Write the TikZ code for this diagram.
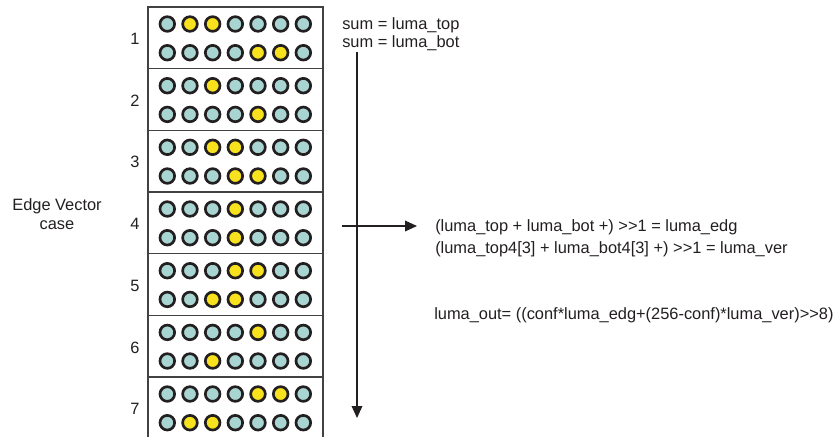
\documentclass[tikz,border=0pt]{standalone}
\usepackage{fontspec}
\setmainfont{Liberation Sans}
\usetikzlibrary{arrows.meta}
\definecolor{tq}{HTML}{A8D4D2}
\definecolor{yw}{HTML}{F8E21E}
\definecolor{ink}{HTML}{231F20}
\tikzset{
  dot/.style={circle, draw=ink, line width=2pt, inner sep=0pt, minimum size=11pt},
  blk/.style={draw=ink!85, line width=1.1pt, minimum width=131.25pt, minimum height=46.25pt, inner sep=0pt},
  txt/.style={font=\fontsize{12.3}{14}\selectfont, inner sep=0pt, text=ink},
  arr/.style={draw=ink, line width=1pt, -{Triangle[length=9pt,width=8pt]}}
}
\newcommand\dotrow[3]{%
  \foreach \c [count=\j] in {#3}
    \node[dot, fill=\c] (d#1-\j) at ({167.3+22.67*(\j-1)}, #2) {};}
\newcommand\shr{>\kern0pt>}
\begin{document}
\begin{tikzpicture}[x=0.75pt, y=-0.75pt]
\useasboundingbox (0,0) rectangle (837,436);
% blocks
\foreach \b in {1,...,7}{
  \pgfmathsetmacro\top{7+61.67*(\b-1)}
  \node[blk] (b\b) at (235.5, {\top+30.83}) {};
  \node[txt] (n\b) at (135, {\top+32}) {\b};
}
\dotrow{1a}{24}{tq,yw,yw,tq,tq,tq,tq}
\dotrow{1b}{52.7}{tq,tq,tq,tq,yw,yw,tq}
\dotrow{2a}{85.7}{tq,tq,yw,tq,tq,tq,tq}
\dotrow{2b}{114.4}{tq,tq,tq,tq,yw,tq,tq}
\dotrow{3a}{147.3}{tq,tq,yw,yw,tq,tq,tq}
\dotrow{3b}{176}{tq,tq,tq,yw,yw,tq,tq}
\dotrow{4a}{209}{tq,tq,tq,yw,tq,tq,tq}
\dotrow{4b}{237.7}{tq,tq,tq,yw,tq,tq,tq}
\dotrow{5a}{270.7}{tq,tq,tq,yw,yw,tq,tq}
\dotrow{5b}{299.4}{tq,tq,yw,yw,tq,tq,tq}
\dotrow{6a}{332.4}{tq,tq,tq,tq,yw,tq,tq}
\dotrow{6b}{361}{tq,tq,yw,tq,tq,tq,tq}
\dotrow{7a}{394}{tq,tq,tq,tq,yw,yw,tq}
\dotrow{7b}{422.7}{tq,yw,yw,tq,tq,tq,tq}
% texts
\node[txt, align=center] (evc) at (57, 214) {Edge Vector\\case};
\node[txt, anchor=west] (s1) at (342, 25) {sum = luma\_top};
\node[txt, anchor=west] (s2) at (342, 43) {sum = luma\_bot};
\node[txt, anchor=west] (e1) at (435, 227) {(luma\_top + luma\_bot +) \shr1 = luma\_edg};
\node[txt, anchor=west] (e2) at (435, 249) {(luma\_top4[3] + luma\_bot4[3] +) \shr1 = luma\_ver};
\node[txt, anchor=west] (e3) at (434, 315) {luma\_out= ((conf*luma\_edg+(256-conf)*luma\_ver)\shr8)};
% arrows
\coordinate (vt) at (357, 52);
\coordinate (vb) at (357, 418);
\coordinate (hs) at (342, 226);
\coordinate (he) at (417, 226);
\draw[arr] (vt) -- (vb);
\draw[arr] (hs) -- (he);
\end{tikzpicture}
\end{document}
